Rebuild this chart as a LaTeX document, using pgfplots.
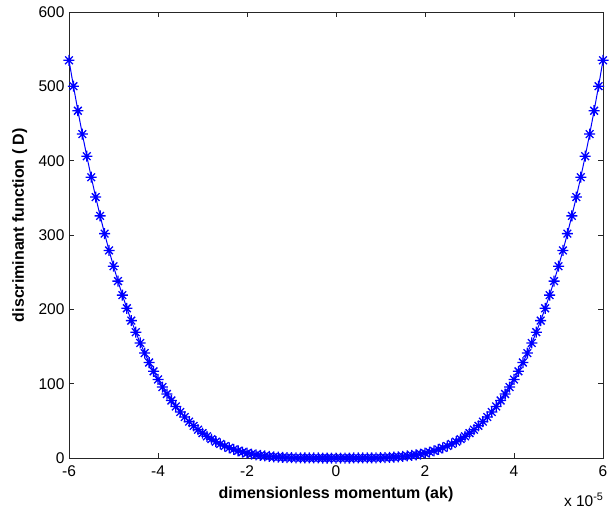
\documentclass[border=0pt]{standalone}
\usepackage{fontspec}
\setmainfont{Liberation Sans}
\usepackage{pgfplots}
\usepackage{pgfplotstable}
\pgfplotsset{compat=1.18}

% eight-armed asterisk marker (plus and cross)
\pgfdeclareplotmark{mstar}{%
  \pgfpathmoveto{\pgfqpoint{-\pgfplotmarksize}{0pt}}%
  \pgfpathlineto{\pgfqpoint{\pgfplotmarksize}{0pt}}%
  \pgfpathmoveto{\pgfqpoint{0pt}{-\pgfplotmarksize}}%
  \pgfpathlineto{\pgfqpoint{0pt}{\pgfplotmarksize}}%
  \pgfpathmoveto{\pgfqpoint{-0.7\pgfplotmarksize}{-0.7\pgfplotmarksize}}%
  \pgfpathlineto{\pgfqpoint{0.7\pgfplotmarksize}{0.7\pgfplotmarksize}}%
  \pgfpathmoveto{\pgfqpoint{-0.7\pgfplotmarksize}{0.7\pgfplotmarksize}}%
  \pgfpathlineto{\pgfqpoint{0.7\pgfplotmarksize}{-0.7\pgfplotmarksize}}%
  \pgfusepathqstroke}

% discriminant function D against dimensionless momentum ak (in units of 1e-5)
\pgfplotstableread{
x y
-6.0 535.00
-5.9 500.22
-5.8 467.16
-5.7 435.76
-5.6 405.98
-5.5 377.75
-5.4 351.01
-5.3 325.73
-5.2 301.83
-5.1 279.27
-5.0 258.01
-4.9 237.98
-4.8 219.14
-4.7 201.44
-4.6 184.84
-4.5 169.28
-4.4 154.73
-4.3 141.13
-4.2 128.45
-4.1 116.65
-4.0 105.68
-3.9 95.50
-3.8 86.08
-3.7 77.37
-3.6 69.34
-3.5 61.95
-3.4 55.17
-3.3 48.96
-3.2 43.29
-3.1 38.12
-3.0 33.44
-2.9 29.20
-2.8 25.37
-2.7 21.94
-2.6 18.86
-2.5 16.13
-2.4 13.70
-2.3 11.55
-2.2 9.67
-2.1 8.03
-2.0 6.61
-1.9 5.38
-1.8 4.33
-1.7 3.45
-1.6 2.71
-1.5 2.09
-1.4 1.59
-1.3 1.18
-1.2 0.86
-1.1 0.60
-1.0 0.41
-0.9 0.27
-0.8 0.17
-0.7 0.10
-0.6 0.05
-0.5 0.03
-0.4 0.01
-0.3 0.00
-0.2 0.00
-0.1 0.00
0.0 0.00
0.1 0.00
0.2 0.00
0.3 0.00
0.4 0.01
0.5 0.03
0.6 0.05
0.7 0.10
0.8 0.17
0.9 0.27
1.0 0.41
1.1 0.60
1.2 0.86
1.3 1.18
1.4 1.59
1.5 2.09
1.6 2.71
1.7 3.45
1.8 4.33
1.9 5.38
2.0 6.61
2.1 8.03
2.2 9.67
2.3 11.55
2.4 13.70
2.5 16.13
2.6 18.86
2.7 21.94
2.8 25.37
2.9 29.20
3.0 33.44
3.1 38.12
3.2 43.29
3.3 48.96
3.4 55.17
3.5 61.95
3.6 69.34
3.7 77.37
3.8 86.08
3.9 95.50
4.0 105.68
4.1 116.65
4.2 128.45
4.3 141.13
4.4 154.73
4.5 169.28
4.6 184.84
4.7 201.44
4.8 219.14
4.9 237.98
5.0 258.01
5.1 279.27
5.2 301.83
5.3 325.73
5.4 351.01
5.5 377.75
5.6 405.98
5.7 435.76
5.8 467.16
5.9 500.22
6.0 535.00
}\discdata

\begin{document}
\begin{tikzpicture}
\path[use as bounding box] (-69bp,-56bp) rectangle (541bp,458bp);
\begin{axis}[
  at={(0,0)}, anchor=south west,
  width=534bp, height=446bp, scale only axis,
  xmin=-6, xmax=6, ymin=0, ymax=600,
  xtick={-6,-4,...,6}, ytick={0,100,...,600},
  tick align=inside, major tick length=5bp,
  axis line style={line width=0.8bp, black!85},
  every tick/.style={line width=0.8bp, black!85},
  clip=false,
  /pgf/number format/assume math mode=true,
  tick label style={font=\fontsize{15.5bp}{18bp}\selectfont},
  xticklabel style={yshift=-4bp},
  yticklabel style={xshift=-1bp},
  label style={font=\fontsize{16bp}{19bp}\selectfont\bfseries},
  xlabel={dimensionless momentum (ak)},
  ylabel={discriminant function ( D)},
  xlabel style={at={(axis description cs:0.5,-0.0919)}, anchor=base},
  ylabel style={at={(axis description cs:-0.0843,0.522)}, anchor=base},
]
\addplot[blue, line width=1bp, mark=mstar, mark size=5.5bp,
  mark options={line width=1.3bp}] table[x=x, y=y] {\discdata};
\node[anchor=base east, font=\fontsize{15.5bp}{18bp}\selectfont,
  xshift=4bp, yshift=-48bp] at (rel axis cs:1,0) {x 10\textsuperscript{-5}};
\end{axis}
\end{tikzpicture}
\end{document}
